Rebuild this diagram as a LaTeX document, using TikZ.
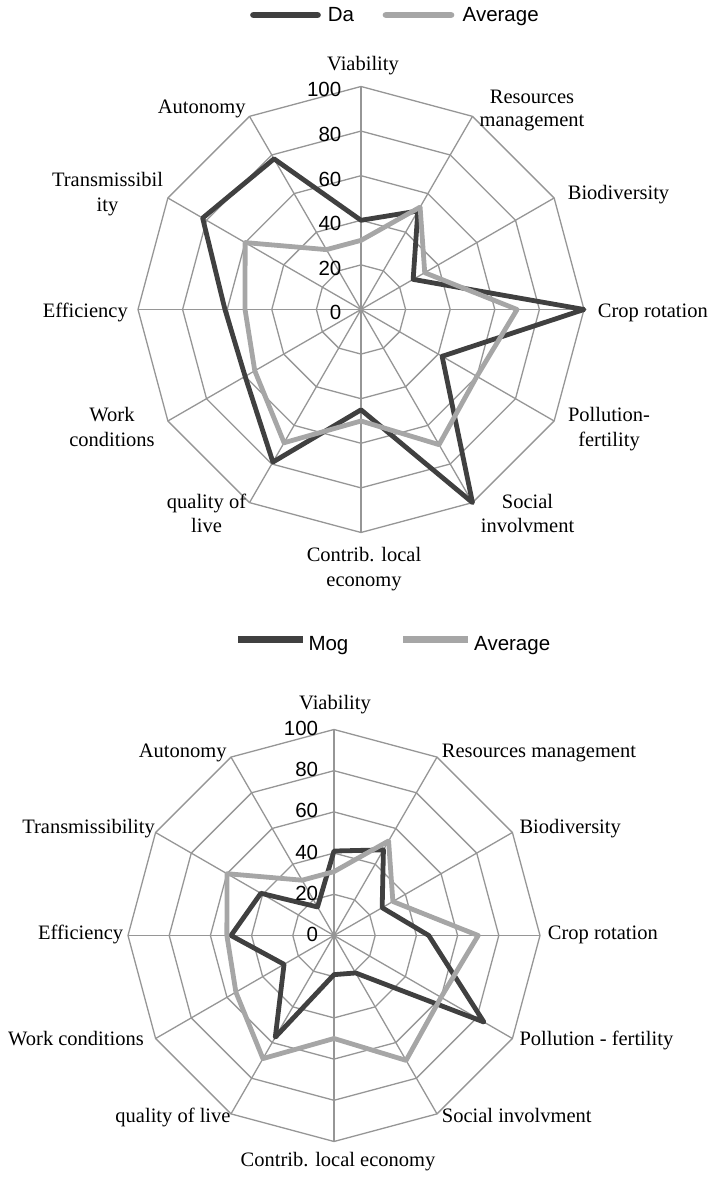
\documentclass[tikz,border=0pt]{standalone}
\usepackage{fontspec}
\setmainfont{Liberation Serif}
\newfontfamily\keyfont{Liberation Sans}
\usetikzlibrary{calc}
\definecolor{gridgray}{RGB}{150,150,150}
\definecolor{seriesdark}{RGB}{64,64,64}
\definecolor{serieslight}{RGB}{166,166,166}

% spider web: #1 chart name, #2 centre, #3 outer radius
\newcommand\drawweb[3]{%
  \coordinate (#1c) at #2;
  \begin{scope}[shift={#2}]
    \foreach \k in {1,...,5}{
      \draw[webline] (90:{#3*\k/5}) \foreach \a in {60,30,...,-240}{ -- (\a:{#3*\k/5}) } -- cycle;
    }
    \foreach \a [count=\i from 0] in {90,60,...,-240}{
      \coordinate (#1v\i) at (\a:#3);
      \draw[webline] (#1c) -- (#1v\i);
    }
  \end{scope}}

% data polygon: #1 style prefix, #2 chart name, #3 pt per unit, #4 twelve values
\newcommand\drawseries[4]{%
  \foreach \v [count=\i from 0] in {#4}{
    \coordinate (#2-#1-\i) at ($(#2c)+({90-30*\i}:{#3*\v})$);
  }
  \draw[#1line] (#2-#1-0) \foreach \i in {1,...,11}{ -- (#2-#1-\i)} -- cycle;}

\begin{document}
\begin{tikzpicture}[x=1pt,y=1pt,
  webline/.style={draw=gridgray,line width=1.3pt},
  darkline/.style={draw=seriesdark,line width=4.8pt,line join=round},
  lightline/.style={draw=serieslight,line width=4.8pt,line join=round},
  cat/.style={inner sep=0pt,anchor=base,font=\fontsize{20.5}{25}\selectfont},
  tick/.style={inner sep=0pt,anchor=base east,font=\keyfont\fontsize{20.5}{25}\selectfont},
  key/.style={inner sep=0pt,anchor=base west,font=\keyfont\fontsize{20.5}{25}\selectfont}]
\useasboundingbox (0,0) rectangle (714,1177);

% ---------------- upper chart: Da ----------------
\drawweb{a}{(361,867.5)}{223}
\drawseries{dark}{a}{2.23}{40,51,27,100,42,100,45,79,60,61,82,78}
\drawseries{light}{a}{2.23}{31,53,33,70,60,70,50,69,55,52,60,31}
\foreach \v in {0,20,...,100}
  \node[tick] (a-t\v) at ($(ac)+(-19.5,{2.23*\v-10.5})$) {\v};

\node[cat] (a-l0) at (363,1106) {Viability};
\node[cat] (a-l1a) at (532,1073.7) {Resources};
\node[cat] (a-l1b) at (532,1050.3) {management};
\node[cat] (a-l2) at (618.5,977.7) {Biodiversity};
\node[cat,anchor=base west] (a-l3) at (597.7,859.7) {Crop rotation};
\node[cat] (a-l4a) at (609,755.3) {Pollution-};
\node[cat] (a-l4b) at (609,730.3) {fertility};
\node[cat] (a-l5a) at (527.5,668.7) {Social};
\node[cat] (a-l5b) at (527.5,644.3) {involvment};
\node[cat] (a-l6a) at (364,615) {Contrib. local};
\node[cat] (a-l6b) at (364,590) {economy};
\node[cat] (a-l7a) at (206.5,668.7) {quality of};
\node[cat] (a-l7b) at (206.5,644.3) {live};
\node[cat] (a-l8a) at (112,755.3) {Work};
\node[cat] (a-l8b) at (112,730.3) {conditions};
\node[cat,anchor=base east] (a-l9) at (128,859.7) {Efficiency};
\node[cat] (a-l10a) at (107.5,990.3) {Transmissibil};
\node[cat] (a-l10b) at (107.5,965.3) {ity};
\node[cat] (a-l11) at (201.7,1063.7) {Autonomy};

% legend
\coordinate (ka1) at (253.5,1162);
\coordinate (ka2) at (317.5,1162);
\coordinate (ka3) at (386,1162);
\coordinate (ka4) at (451,1162);
\draw[seriesdark,line width=6.7pt,line cap=round] (ka1) -- (ka2);
\draw[serieslight,line width=6.7pt,line cap=round] (ka3) -- (ka4);
\node[key] (ka-da) at (327.7,1155.3) {Da};
\node[key] (ka-av) at (462.5,1155.3) {Average};

% ---------------- lower chart: Mog ----------------
\drawweb{b}{(334,241.5)}{206}
\drawseries{dark}{b}{2.06}{41,48,27,46,84,21,19,57,28,50,41,16}
\drawseries{light}{b}{2.06}{31,53,33,70,60,70,50,69,55,52,60,31}
\foreach \v in {0,20,...,100}
  \node[tick] (b-t\v) at ($(bc)+(-15.7,{2.06*\v-6})$) {\v};

\node[cat] (b-l0) at (335,467.7) {Viability};
\node[cat,anchor=base west] (b-l1) at (441.7,419.7) {Resources management};
\node[cat,anchor=base west] (b-l2) at (519.3,343) {Biodiversity};
\node[cat,anchor=base west] (b-l3) at (547.7,237) {Crop rotation};
\node[cat,anchor=base west] (b-l4) at (519.3,131.3) {Pollution - fertility};
\node[cat,anchor=base west] (b-l5) at (441.7,54.3) {Social involvment};
\node[cat] (b-l6) at (338,10.5) {Contrib. local economy};
\node[cat,anchor=base east] (b-l7) at (230.7,54.3) {quality of live};
\node[cat,anchor=base east] (b-l8) at (144,131.3) {Work conditions};
\node[cat,anchor=base east] (b-l9) at (123.3,237) {Efficiency};
\node[cat,anchor=base east] (b-l10) at (155,343) {Transmissibility};
\node[cat,anchor=base east] (b-l11) at (226.7,419.7) {Autonomy};

% legend
\fill[seriesdark] (238.3,533.7) rectangle (303.3,541.3);
\fill[serieslight] (403.3,533.7) rectangle (468.3,541.3);
\node[key] (kb-mog) at (308.3,526.3) {Mog};
\node[key] (kb-av) at (474,526.3) {Average};
\end{tikzpicture}
\end{document}
